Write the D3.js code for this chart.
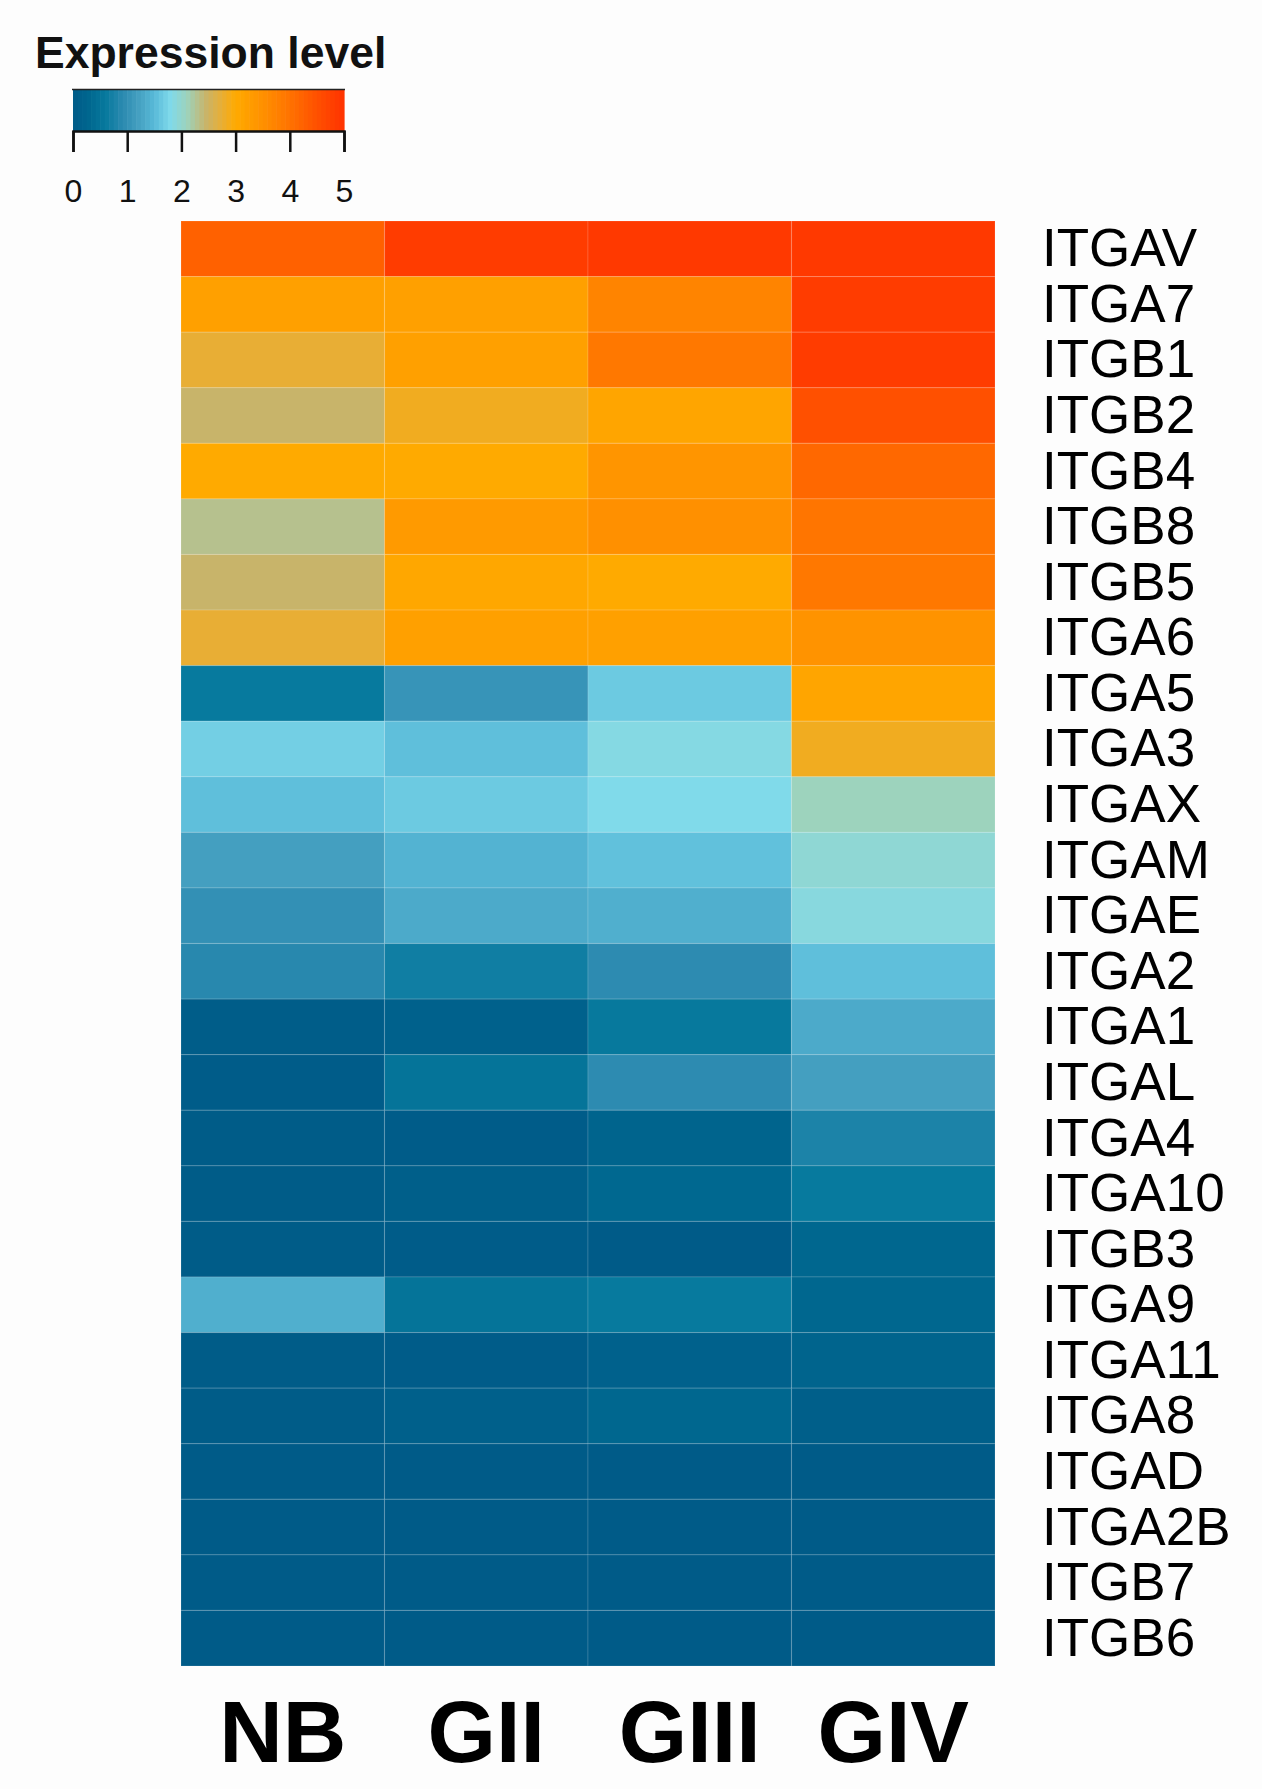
<!DOCTYPE html>
<html>
<head>
<meta charset="utf-8">
<script src="https://cdn.jsdelivr.net/npm/d3@7"></script>
<style>
  html, body { margin: 0; padding: 0; background: #fdfdfd; }
  svg { display: block; }
</style>
</head>
<body>
<script>
// ---------- DATA ----------
const groups = ["NB", "GII", "GIII", "GIV"];
const genes = ["ITGAV","ITGA7","ITGB1","ITGB2","ITGB4","ITGB8","ITGB5","ITGA6",
  "ITGA5","ITGA3","ITGAX","ITGAM","ITGAE","ITGA2","ITGA1","ITGAL","ITGA4",
  "ITGA10","ITGB3","ITGA9","ITGA11","ITGA8","ITGAD","ITGA2B","ITGB7","ITGB6"];
const valuesNB   = [4.25,3.2,2.75,2.45,3.0,2.3,2.45,2.75,0.6,1.7,1.55,1.2,1.0,0.88,0.05,0.03,0.02,0.02,0.02,1.38,0.02,0.02,0,0,0,0];
const valuesGII  = [4.85,3.2,3.2,2.85,3.0,3.3,3.05,3.2,1.05,1.55,1.65,1.42,1.32,0.68,0.15,0.5,0.03,0.1,0.03,0.5,0.03,0.12,0,0,0,0];
const valuesGIII = [4.9,3.7,3.9,3.1,3.4,3.5,3.0,3.2,1.65,1.85,1.8,1.57,1.38,0.93,0.58,0.93,0.22,0.32,0.0,0.6,0.15,0.3,0,0,0,0];
const valuesGIV  = [4.9,4.85,4.85,4.5,4.15,3.95,3.9,3.45,3.1,2.85,2.1,1.95,1.88,1.55,1.32,1.2,0.78,0.6,0.3,0.3,0.22,0.1,0,0,0,0];
const legendTicks = [0, 1, 2, 3, 4, 5];
const colorStops = [0, 0.3, 0.6, 0.9, 1.2, 1.5, 1.8, 2.1, 2.45, 2.75, 3.0, 3.5, 4.0, 4.5, 5.0];
const colorRange = ["#005b88","#00678f","#077a9e","#2a89af","#449fc0","#58bad8","#80daea",
  "#9dd3bd","#c8b46a","#e8ae35","#ffaa00","#ff9000","#ff7200","#ff5000","#ff3300"];

// ---------- SETUP ----------
const W = 1262, H = 1789;
const svg = d3.select("body").append("svg").attr("width", W).attr("height", H);
svg.append("rect").attr("width", W).attr("height", H).attr("fill", "#fdfdfd");

const color = d3.scaleLinear().domain(colorStops).range(colorRange).interpolate(d3.interpolateRgb).clamp(true);

const seriesList = [valuesNB, valuesGII, valuesGIII, valuesGIV];
const cells = [];
genes.forEach((g, i) => groups.forEach((grp, j) => cells.push({gene: g, group: grp, value: seriesList[j][i]})));

const x = d3.scaleBand().domain(groups).range([181, 995]).padding(0);
const y = d3.scaleBand().domain(genes).range([221, 1666]).padding(0);

// ---------- HEATMAP ----------
svg.append("g").selectAll("rect").data(cells).join("rect")
  .attr("x", d => x(d.group))
  .attr("y", d => y(d.gene))
  .attr("width", x.bandwidth())
  .attr("height", y.bandwidth())
  .attr("fill", d => color(d.value))
  .attr("stroke", "rgba(255,255,255,0.12)")
  .attr("stroke-width", 1.2);

// Row labels
svg.append("g").selectAll("text").data(genes).join("text")
  .attr("x", 1042)
  .attr("y", d => y(d) + y.bandwidth() / 2 + 17.5)
  .attr("font-family", "'Liberation Sans', Arial, Helvetica, sans-serif")
  .attr("font-size", 53)
  .attr("fill", "#000")
  .text(d => d);

// Column labels
svg.append("g").selectAll("text").data(groups).join("text")
  .attr("x", d => x(d) + x.bandwidth() / 2)
  .attr("y", 1762)
  .attr("text-anchor", "middle")
  .attr("font-family", "'Liberation Sans', Arial, Helvetica, sans-serif")
  .attr("font-weight", "bold")
  .attr("font-size", 88)
  .attr("fill", "#000")
  .text(d => d);

// ---------- LEGEND ----------
svg.append("text")
  .attr("x", 35).attr("y", 68)
  .attr("font-family", "'Liberation Sans', Arial, Helvetica, sans-serif")
  .attr("font-weight", "bold")
  .attr("font-size", 44.5)
  .attr("fill", "#111")
  .text("Expression level");

const lx = d3.scaleLinear().domain([0, 5]).range([73, 344]);
const nSteps = 60;
const steps = d3.range(nSteps).map(i => 5 * i / nSteps);
svg.append("g").selectAll("rect").data(steps).join("rect")
  .attr("x", d => lx(d))
  .attr("y", 89)
  .attr("width", lx(5 / nSteps) - lx(0) + 0.6)
  .attr("height", 42)
  .attr("fill", d => color(d + 2.5 / nSteps));

svg.append("line").attr("x1", 72).attr("x2", 345).attr("y1", 89.5).attr("y2", 89.5)
  .attr("stroke", "#222").attr("stroke-width", 1.5);

const axis = d3.axisBottom(lx).tickValues(legendTicks).tickSize(21).tickFormat(d3.format("d"));
const ag = svg.append("g").attr("transform", "translate(0,131)").call(axis);
ag.select(".domain").attr("stroke", "#111").attr("stroke-width", 2.5);
ag.selectAll(".tick line").attr("stroke", "#111").attr("stroke-width", 2.5);
ag.selectAll(".tick text")
  .attr("font-family", "'Liberation Sans', Arial, Helvetica, sans-serif")
  .attr("font-size", 32)
  .attr("fill", "#111")
  .attr("dy", 0)
  .attr("y", 71);
</script>
</body>
</html>
